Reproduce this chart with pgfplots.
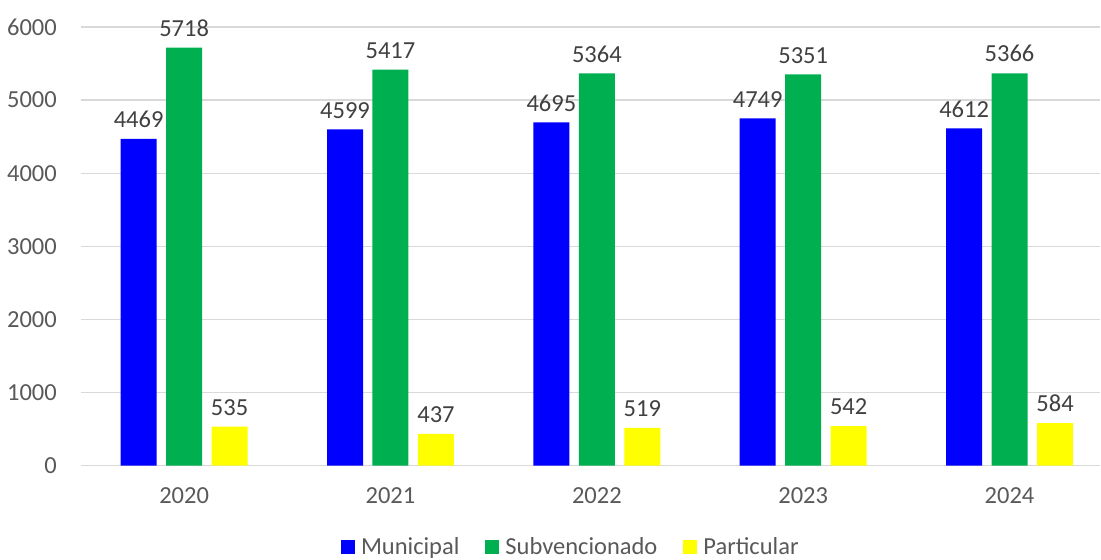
\documentclass[border=0pt]{standalone}
\usepackage{fontspec}
\setmainfont{Carlito}
\usepackage{pgfplots}
\pgfplotsset{compat=1.18}
\definecolor{cblue}{HTML}{0000FF}
\definecolor{cgreen}{HTML}{00B050}
\definecolor{cyellow}{HTML}{FFFF00}
\definecolor{tickgray}{HTML}{595959}
\definecolor{labgray}{HTML}{404040}
\definecolor{gridgray}{HTML}{D9D9D9}
\begin{document}
\begin{tikzpicture}
\begin{axis}[
  name=ax,
  scale only axis,
  width=1020pt, height=439pt,
  xmin=-0.5, xmax=4.44,
  ymin=0, ymax=6000,
  ytick={0,1000,2000,3000,4000,5000,6000},
  xtick={0,1,2,3,4},
  xticklabels={2020,2021,2022,2023,2024},
  ymajorgrids,
  grid style={gridgray, line width=1.3pt},
  axis line style={draw=none},
  major tick length=0pt,
  /pgf/number format/1000 sep={},
  /pgf/number format/assume math mode=true,
  ticklabel style={font=\fontsize{24.5}{28}\selectfont, text=tickgray},
  yticklabel style={anchor=east, inner sep=0pt, xshift=-24pt},
  xticklabel style={anchor=north, inner sep=0pt, yshift=-22pt},
  ybar,
  bar width=36pt,
  nodes near coords,
  nodes near coords style={font=\fontsize{24.5}{28}\selectfont, text=labgray, anchor=south, inner sep=0pt, yshift=11pt},
  legend columns=3,
  legend style={draw=none, fill=none, font=\fontsize{24.5}{28}\selectfont, text=tickgray,
    at={(0.4805,-0.1845)}, anchor=center,
    /tikz/every odd column/.append style={column sep=4pt},
    /tikz/every even column/.append style={column sep=24pt}},
  legend image code/.code={\fill[#1] (0pt,-7pt) rectangle (14pt,7pt);},
]
\addplot[fill=cblue, draw=none, bar shift=-45.5pt] coordinates {(0,4469) (1,4599) (2,4695) (3,4749) (4,4612)};
\addplot[fill=cgreen, draw=none, bar shift=0pt] coordinates {(0,5718) (1,5417) (2,5364) (3,5351) (4,5366)};
\addplot[fill=cyellow, draw=none, bar shift=45.5pt] coordinates {(0,535) (1,437) (2,519) (3,542) (4,584)};
\legend{Municipal, Subvencionado, Particular}
\end{axis}
\path[use as bounding box] ([shift={(-81pt,-91pt)}]ax.south west) rectangle ([shift={(0pt,27pt)}]ax.north east);
\end{tikzpicture}
\end{document}
